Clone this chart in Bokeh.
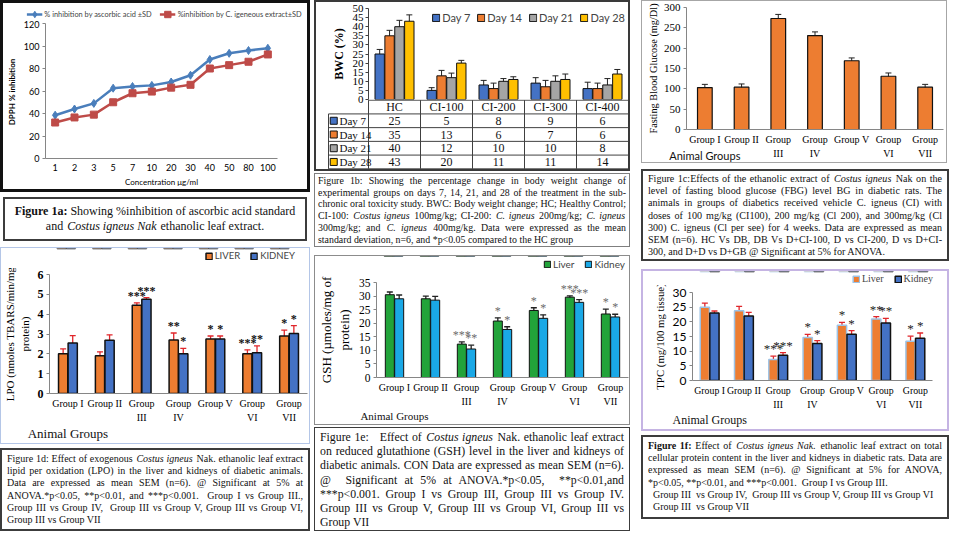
from bokeh.plotting import figure
from bokeh.models import (ColumnDataSource, FactorRange, Range1d, Whisker, TeeHead,
                          Legend, LegendItem, Div, Spacer, FixedTicker, LinearAxis)
from bokeh.layouts import row, column
from bokeh.transform import dodge
from bokeh.embed import file_html
from bokeh.resources import INLINE
from bokeh.core.properties import value

SERIF = "Liberation Serif"
SANS = "Lato"

# ---------------- data ----------------
# Figure 1a - DPPH % inhibition
conc_labels = ["1", "2", "3", "5", "7", "10", "20", "30", "40", "50", "80", "100"]
inhib_ascorbic = [38.5, 44, 49, 62.5, 64, 65, 68, 74, 88, 93.5, 96, 98]
inhib_cigneus = [32, 36.5, 39, 50, 58, 59.5, 63, 65.5, 80, 83, 86, 92.5]

# Figure 1b - body weight change (%)
bwc_groups = ["HC", "CI-100", "CI-200", "CI-300", "CI-400"]
bwc_days = ["Day 7", "Day 14", "Day 21", "Day 28"]
bwc_day7 = [25, 5, 8, 9, 6]
bwc_day14 = [35, 13, 6, 7, 6]
bwc_day21 = [40, 12, 10, 10, 8]
bwc_day28 = [43, 20, 11, 11, 14]
bwc_sd7 = [2.5, 1.5, 2.5, 3.0, 3.5]
bwc_sd14 = [3.0, 3.0, 3.0, 3.5, 3.0]
bwc_sd21 = [3.5, 2.5, 1.5, 3.0, 3.5]
bwc_sd28 = [3.5, 1.5, 1.5, 3.0, 2.5]
bwc_colors = ["#4472C4", "#ED7D31", "#A5A5A5", "#FFC000"]

# Animal groups (1c - 1f)
animal_groups = ["Group I", "Group II", "Group III", "Group IV", "Group V", "Group VI", "Group VII"]
group_tick_labels = ["Group I", "Group II", "Group\nIII", "Group\nIV", "Group V", "Group\nVI", "Group\nVII"]

fbg = [103, 104, 273, 231, 169, 131, 104]
fbg_sem = [8, 8, 10, 9, 7, 8, 7]

lpo_liver = [2.0, 1.9, 4.45, 2.7, 2.75, 2.0, 2.9]
lpo_liver_sem = [0.25, 0.2, 0.12, 0.35, 0.15, 0.2, 0.3]
lpo_liver_sig = ["", "", "***", "**", "*", "***", "*"]
lpo_kidney = [2.55, 2.68, 4.75, 2.0, 2.75, 2.05, 3.02]
lpo_kidney_sem = [0.37, 0.28, 0.08, 0.28, 0.15, 0.35, 0.4]
lpo_kidney_sig = ["", "", "***", "*", "*", "**", "*"]

gsh_liver = [30.5, 29.0, 12.3, 20.8, 24.7, 29.6, 23.4]
gsh_liver_sem = [1.0, 1.0, 0.8, 1.2, 1.0, 0.5, 1.8]
gsh_liver_sig = ["", "", "***", "*", "*", "***", "*"]
gsh_kidney = [29.0, 28.5, 10.5, 17.7, 21.8, 27.7, 22.3]
gsh_kidney_sem = [1.4, 1.4, 1.4, 1.0, 1.3, 1.0, 1.0]
gsh_kidney_sig = ["", "", "**", "*", "*", "***", "*"]

tpc_liver = [25.0, 23.8, 7.2, 14.7, 18.8, 21.0, 13.4]
tpc_liver_sem = [1.4, 1.5, 1.1, 1.0, 1.0, 0.8, 1.7]
tpc_liver_sig = ["", "", "***", "*", "*", "**", "*"]
tpc_kidney = [23.0, 22.0, 8.6, 12.6, 15.8, 19.6, 14.4]
tpc_kidney_sem = [0.7, 1.2, 0.9, 1.0, 1.2, 1.6, 1.8]
tpc_kidney_sig = ["", "", "***", "*", "*", "**", "*"]

gx = list(range(len(animal_groups)))


# ---------------- helpers ----------------
def make_fig(width, height, x_range, y_range, borders, border_css=None, **kw):
    left, right, top, bottom = borders
    p = figure(width=width, height=height, x_range=x_range, y_range=y_range,
               min_border_left=left, min_border_right=right,
               min_border_top=top, min_border_bottom=bottom,
               output_backend="svg", toolbar_location=None, frame_align=False, **kw)
    p.xgrid.visible = False
    p.ygrid.visible = False
    p.outline_line_color = None
    if border_css:
        p.styles = {"border": border_css}
    return p


def style_axes(p, font, size, style="normal", color="#868686",
               label_font=SERIF, label_size="11px", label_style="normal"):
    for ax in p.axis:
        ax.axis_line_color = color
        ax.major_tick_line_color = color
        ax.minor_tick_line_color = None
        ax.major_tick_in = 0
        ax.major_tick_out = 3
        ax.major_label_standoff = 3
        ax.major_label_text_font = font
        ax.major_label_text_font_size = size
        ax.major_label_text_font_style = style
        ax.major_label_text_color = "#000000"
        ax.axis_label_text_font = label_font
        ax.axis_label_text_font_size = label_size
        ax.axis_label_text_font_style = label_style
        ax.axis_label_text_color = "#000000"
        ax.axis_label_standoff = 4


def group_axes(p, size, font=SERIF, ag_font=SERIF, ag_size="12px", ag_standoff=0):
    first = [lbl.split("\n")[0] for lbl in group_tick_labels]
    second = [lbl.split("\n")[1] if "\n" in lbl else "" for lbl in group_tick_labels]
    xa = p.xaxis[0]
    xa.ticker = FixedTicker(ticks=gx)
    xa.major_label_overrides = dict(zip(gx, first))
    xa.major_tick_out = 0
    xa.major_label_standoff = 4
    xa.major_label_text_font = font
    xa.major_label_text_font_size = size
    xa.major_label_text_font_style = "normal"
    t2 = [i for i, s in zip(gx, second) if s]
    ax2 = LinearAxis(ticker=FixedTicker(ticks=t2),
                     major_label_overrides={i: s for i, s in zip(gx, second) if s},
                     axis_line_color=None, major_tick_line_color=None,
                     minor_tick_line_color=None, major_tick_out=0, major_tick_in=0,
                     major_label_standoff=0, major_label_text_font=font,
                     major_label_text_font_size=size, major_label_text_color="#000000")
    p.add_layout(ax2, "below")
    ax3 = LinearAxis(ticker=FixedTicker(ticks=[gx[0]]),
                     major_label_overrides={gx[0]: "Animal Groups"},
                     axis_line_color=None, major_tick_line_color=None,
                     minor_tick_line_color=None, major_tick_out=0, major_tick_in=0,
                     major_label_standoff=ag_standoff, major_label_text_font=ag_font,
                     major_label_text_font_size=ag_size, major_label_text_color="#111111")
    p.add_layout(ax3, "below")


def caption(html, width, height, font_size, line_height, border, align="justify",
            pad="2px 6px", inset=0):
    html = html.replace("<i>", '<i style="margin:0 1px">')
    inner = ('<div style="box-sizing:border-box;width:%dpx;height:%dpx;margin-left:%dpx;'
             'border:%s;padding:%s;overflow:hidden;font-family:\'%s\';font-size:%spx;'
             'line-height:%spx;text-align:%s;color:#111;">%s</div>'
             % (width - 2 * inset, height, inset, border, pad, SERIF, font_size,
                line_height, align, html))
    return Div(text=inner, width=width, height=height, margin=0)


def legend_strip(width, height, x_range, left, right, location, margin, font, size,
                 spacing=10, glyph=8):
    """A thin strip above a chart carrying its legend; its y window shows no data."""
    lf = figure(width=width, height=height, x_range=x_range, y_range=Range1d(-2, -1),
                min_border_left=left, min_border_right=right, min_border_top=0,
                min_border_bottom=0, x_axis_location=None, y_axis_location=None,
                output_backend="svg", toolbar_location=None, frame_align=False)
    lf.outline_line_color = None
    lf.grid.visible = False
    leg = Legend(items=[], orientation="horizontal", location=location,
                 label_text_font=font, label_text_font_size=size,
                 glyph_width=glyph, glyph_height=glyph, label_standoff=2, spacing=spacing,
                 padding=0, margin=margin, border_line_color=None, background_fill_alpha=0)
    lf.add_layout(leg)
    return lf, leg


def pair_panel(width, height, strip_h, borders, border_css, ymax, ystep, series, sems, sigs,
               names, fills, outlines, line_w, bar_w, offset, err_color, star_color,
               star_size, star_style, tick_font, tick_size, tick_style, xtick_size, ylabel,
               ylabel_size, legend_font, legend_size, legend_right, ag_font, ag_size):
    left, right, top, bottom = borders
    xr = Range1d(-0.5, len(gx) - 0.5)
    strip, leg = legend_strip(width, strip_h, xr, left, legend_right, "top_right", 2,
                              legend_font, legend_size)
    p = make_fig(width, height - strip_h, xr, Range1d(0, ymax),
                 (left, right, top - strip_h, bottom))
    data = dict(x=gx)
    for k in range(2):
        data["v%d" % k] = series[k]
        data["lo%d" % k] = [v - e for v, e in zip(series[k], sems[k])]
        data["hi%d" % k] = [v + e for v, e in zip(series[k], sems[k])]
        data["s%d" % k] = sigs[k]
    src = ColumnDataSource(data)
    for k, off in enumerate((-offset, offset)):
        xd = dodge("x", off)
        bar_style = dict(width=bar_w, source=src, fill_color=fills[k],
                         line_color=outlines[k], line_width=line_w)
        p.vbar(x=xd, top="v%d" % k, **bar_style)
        key = strip.vbar(x=xd, top="v%d" % k, **bar_style)
        leg.items.append(LegendItem(label=names[k], renderers=[key]))
        p.add_layout(Whisker(source=src, base=xd, lower="lo%d" % k, upper="hi%d" % k,
                             line_color=err_color, line_width=1.3,
                             upper_head=TeeHead(size=6, line_color=err_color, line_width=1.3),
                             lower_head=TeeHead(size=6, line_color=err_color, line_width=1.3)))
        p.text(x=xd, y="hi%d" % k, text="s%d" % k, source=src, text_align="center",
               text_baseline="bottom", text_font=value(SERIF), text_font_size=star_size,
               text_font_style=star_style, text_color=star_color)
    style_axes(p, tick_font, tick_size, tick_style, color="#868686",
               label_font=SERIF, label_size=ylabel_size)
    p.yaxis.ticker = FixedTicker(ticks=list(range(0, int(ymax) + 1, ystep)))
    p.yaxis.axis_label = ylabel
    group_axes(p, xtick_size, ag_font=ag_font, ag_size=ag_size)
    return column(strip, p, spacing=0, styles={"border": border_css})


# ---------------- Figure 1a ----------------
A_W, A_H, A_STRIP, A_TOP, A_BOT = 304, 186, 17, 20, 31
a_src = ColumnDataSource(dict(c=conc_labels, asc=inhib_ascorbic, ci=inhib_cigneus))
strip_a, leg_a = legend_strip(A_W, A_STRIP, FactorRange(*conc_labels), 18, 0, "top_center", 3,
                              SANS, "7.4px", spacing=8, glyph=16)
p1a = make_fig(A_W, A_H - A_STRIP, FactorRange(*conc_labels), Range1d(0, 120),
               (40, 30, A_TOP - A_STRIP, A_BOT))
a_items = []
for col, fcolor, marker, msize, lab in (("asc", "#4A7EBB", "diamond", 8,
                                         "% inhibition by ascorbic acid \u00b1SD"),
                                        ("ci", "#BE4B48", "square", 7,
                                         "%inhibition by C. igeneous extract\u00b1SD")):
    for fig in (p1a, strip_a):
        rl = fig.line(x="c", y=col, source=a_src, color=fcolor, line_width=2.5)
        rm = fig.scatter(x="c", y=col, source=a_src, marker=marker, size=msize, color=fcolor)
    a_items.append(LegendItem(label=lab, renderers=[rl, rm]))
leg_a.items = a_items
style_axes(p1a, SANS, "9px", label_font=SANS, label_size="8px")
p1a.yaxis.ticker = FixedTicker(ticks=list(range(0, 121, 20)))
p1a.yaxis.axis_label = "DPPH %  inhibition"
p1a.yaxis.axis_label_text_font_style = "bold"
p1a.xaxis.axis_label = "Concentration \u03bcg/ml"
p1a.xaxis.axis_label_standoff = 3
p1a.xaxis.major_label_standoff = 5
p1a.xaxis.major_tick_out = 0
panel_1a = column(strip_a, p1a, spacing=0, styles={"border": "3px solid #111"})

# ---------------- Figure 1b ----------------
B_W = 312
B_LEFT = 52
TAB_LEFT = 11
B_OVER = 6  # table slides up under the chart's bottom margin
p1b = make_fig(B_W, 97 + B_OVER, FactorRange(*bwc_groups), Range1d(0, 50),
               (B_LEFT, 0, 6, B_OVER), x_axis_location=None)
bwc_src = ColumnDataSource(dict(grp=bwc_groups,
                                d0=bwc_day7, d1=bwc_day14, d2=bwc_day21, d3=bwc_day28,
                                lo0=[v - e for v, e in zip(bwc_day7, bwc_sd7)],
                                hi0=[v + e for v, e in zip(bwc_day7, bwc_sd7)],
                                lo1=[v - e for v, e in zip(bwc_day14, bwc_sd14)],
                                hi1=[v + e for v, e in zip(bwc_day14, bwc_sd14)],
                                lo2=[v - e for v, e in zip(bwc_day21, bwc_sd21)],
                                hi2=[v + e for v, e in zip(bwc_day21, bwc_sd21)],
                                lo3=[v - e for v, e in zip(bwc_day28, bwc_sd28)],
                                hi3=[v + e for v, e in zip(bwc_day28, bwc_sd28)]))
b_items = []
for k, (day, col) in enumerate(zip(bwc_days, bwc_colors)):
    off = (k - 1.5) * 0.19
    xd = dodge("grp", off, range=p1b.x_range)
    r = p1b.vbar(x=xd, top="d%d" % k, width=0.18, source=bwc_src, fill_color=col,
                 line_color="#111", line_width=1)
    b_items.append(LegendItem(label=day, renderers=[r]))
    p1b.add_layout(Whisker(source=bwc_src, base=xd, lower="lo%d" % k, upper="hi%d" % k,
                           line_color="#222", line_width=1,
                           upper_head=TeeHead(size=6, line_color="#222", line_width=1),
                           lower_head=TeeHead(size=6, line_color="#222", line_width=1)))
style_axes(p1b, SERIF, "11px", color="#404040", label_font=SERIF, label_size="12px",
           label_style="bold")
p1b.yaxis.ticker = FixedTicker(ticks=list(range(0, 51, 5)))
p1b.yaxis.axis_label = "BWC (%)"
p1b.yaxis.major_label_standoff = 2
p1b.add_layout(Legend(items=b_items, orientation="horizontal", location="top_right",
                      label_text_font=SANS, label_text_font_size="11px", glyph_width=9,
                      glyph_height=9, label_standoff=2, spacing=6, padding=0, margin=3,
                      border_line_color=None, background_fill_alpha=0))

# data table under the chart
n_g = len(bwc_groups)
n_rows = len(bwc_days) + 1
col_px = (B_W - B_LEFT) / n_g
hdr = (B_W - TAB_LEFT) / col_px - n_g
tab = make_fig(B_W, 70, Range1d(-hdr, n_g), Range1d(n_rows + 0.05, -0.05),
               (TAB_LEFT, 0, 0, 0), x_axis_location=None, y_axis_location=None)
tab.background_fill_alpha = 0
tab.border_fill_alpha = 0
tab.margin = (-B_OVER, 0, 0, 0)
xl = -hdr + 1.0 / col_px
seg_x0 = [float(k) for k in range(n_g + 1)] + [xl] + [xl] * n_rows + [0.0]
seg_x1 = [float(k) for k in range(n_g + 1)] + [xl] + [float(n_g)] * n_rows + [float(n_g)]
seg_y0 = [0.0] * (n_g + 1) + [1.0] + [float(k) for k in range(1, n_rows + 1)] + [0.0]
seg_y1 = [float(n_rows)] * (n_g + 1) + [float(n_rows)] + [float(k) for k in range(1, n_rows + 1)] + [0.0]
tab.segment(x0=seg_x0, y0=seg_y0, x1=seg_x1, y1=seg_y1, line_color="#404040", line_width=1)
tab.text(x=[g + 0.5 for g in range(n_g)], y=[0.5] * n_g, text=bwc_groups,
         text_align="center", text_baseline="middle", text_font=value(SERIF),
         text_font_size="12px", text_color="#111")
tx, ty, tt = [], [], []
for r_i, vals in enumerate([bwc_day7, bwc_day14, bwc_day21, bwc_day28]):
    for g, v in enumerate(vals):
        tx.append(g + 0.5)
        ty.append(r_i + 1.5)
        tt.append(str(v))
tab.text(x=tx, y=ty, text=tt, text_align="center", text_baseline="middle",
         text_font=value(SERIF), text_font_size="12px", text_color="#111")
row_y = [r_i + 1.5 for r_i in range(len(bwc_days))]
tab.scatter(x=[-hdr + 0.12] * len(bwc_days), y=row_y, marker="square", size=7,
            fill_color=bwc_colors, line_color="#111", line_width=1)
tab.text(x=[-hdr + 0.23] * len(bwc_days), y=row_y, text=bwc_days, text_align="left",
         text_baseline="middle", text_font=value(SERIF), text_font_size="11px",
         text_color="#111")
block_1b = column(p1b, tab, spacing=0, styles={"border": "2px solid #3a3a3a"})

# ---------------- Figure 1c ----------------
p1c = make_fig(306, 163, Range1d(-0.5, len(gx) - 0.5), Range1d(0, 300), (44, 5, 6, 30),
               "1px solid #a6a6a6")
fbg_src = ColumnDataSource(dict(x=gx, v=fbg,
                                lo=[v - e for v, e in zip(fbg, fbg_sem)],
                                hi=[v + e for v, e in zip(fbg, fbg_sem)]))
p1c.vbar(x="x", top="v", width=0.4, source=fbg_src, fill_color="#ED7D31",
         line_color="#111", line_width=1.2)
p1c.add_layout(Whisker(source=fbg_src, base="x", lower="lo", upper="hi",
                       line_color="#222", line_width=1,
                       upper_head=TeeHead(size=6, line_color="#222", line_width=1),
                       lower_head=TeeHead(size=6, line_color="#222", line_width=1)))
style_axes(p1c, SERIF, "11px", label_font=SERIF, label_size="10.3px")
p1c.yaxis.ticker = FixedTicker(ticks=list(range(0, 301, 50)))
p1c.yaxis.axis_label = "Fasting Blood Glucose (mg/Dl)"
p1c.yaxis.axis_label_standoff = 2
group_axes(p1c, "10px", ag_font=SANS, ag_size="11px", ag_standoff=-13)

# ---------------- Figure 1d / 1e / 1f ----------------
panel_1d = pair_panel(308, 195, 20, (47, 2, 26, 37), "1px solid #b4c6e7", 6, 1,
                      (lpo_liver, lpo_kidney), (lpo_liver_sem, lpo_kidney_sem),
                      (lpo_liver_sig, lpo_kidney_sig), ("LIVER", "KIDNEY"),
                      ("#ED7D31", "#4472C4"), ("#111", "#111"), 1.5, 0.25, 0.13,
                      "#E0262B", "#111", "12px", "bold", SERIF, "12px", "bold", "10px",
                      "LPO (nmoles TBARS/min/mg\nprotein)", "11px", SANS, "9.5px", 12,
                      SERIF, "13px")
panel_1e = pair_panel(314, 168, 20, (60, 1, 26, 40), "1px solid #8c8c8c", 35, 5,
                      (gsh_liver, gsh_kidney), (gsh_liver_sem, gsh_kidney_sem),
                      (gsh_liver_sig, gsh_kidney_sig), ("Liver", "Kidney"),
                      ("#22A33A", "#1AA8E6"), ("#111", "#111"), 1, 0.25, 0.13,
                      "#222", "#6b6b6b", "12px", "normal", SERIF, "11.5px", "normal", "10px",
                      "GSH (\u00b5moles/mg of\nprotein)", "13px", SANS, "10px", 2,
                      SERIF, "11px")
panel_1f = pair_panel(304, 158, 14, (49, 15, 21, 38), "2px solid #c5b4e3", 30, 5,
                      (tpc_liver, tpc_kidney), (tpc_liver_sem, tpc_kidney_sem),
                      (tpc_liver_sig, tpc_kidney_sig), ("Liver", "Kidney"),
                      ("#ED7D31", "#4472C4"), ("#9DC3E6", "#111"), 1.5, 0.27, 0.14,
                      "#E0262B", "#222", "13px", "normal", SANS, "12px", "normal", "9.8px",
                      "TPC (mg/100 mg tissue)", "10.8px", SERIF, "10px", 12,
                      SERIF, "12px")

# ---------------- captions ----------------
cap1a = caption('<b>Figure 1a:</b> Showing %inhibition of ascorbic acid standard and '
                '<i>Costus igneus Nak</i> ethanolic leaf extract.',
                310, 44, 12, 15, "2px solid #3c3c3c", align="center", pad="5px 6px", inset=3)
cap1b = caption('Figure 1b: Showing the percentage change in body weight change of '
                'experimental groups on days 7, 14, 21, and 28 of the treatment in the '
                'sub-chronic oral toxicity study. BWC: Body weight change; HC; Healthy Control; '
                'CI-100: <i>Costus igneus</i> 100mg/kg; CI-200: <i>C. igneus</i> 200mg/kg; '
                '<i>C. igneus</i> 300mg/kg; and <i>C. igneus</i> 400mg/kg. Data were expressed '
                'as the mean standard deviation, n=6, and *p&lt;0.05 compared to the HC group',
                316, 74, 9.9, 11.7, "1px solid #7f7f7f", pad="1px 3px")
cap1c = caption('Figure 1c:Effects of the ethanolic extract of <i>Costus igneus</i> Nak on the '
                'level of fasting blood glucose (FBG) level BG in diabetic rats. The animals in '
                'groups of diabetics received vehicle C. igneus (CI) with doses of 100 mg/kg '
                '(CI100), 200 mg/kg (Cl 200), and 300mg/kg (Cl 300) C. igneus (Cl per see) for '
                '4 weeks. Data are expressed as mean SEM (n=6). HC Vs DB, DB Vs D+CI-100, D vs '
                'CI-200, D vs D+CI-300, and D+D vs D+GB @ Significant at 5% for ANOVA.',
                308, 92, 10.1, 12.2, "2px solid #3c3c3c", pad="2px 5px")
cap1d = caption('Figure 1d: Effect of exogenous <i>Costus igneus</i> Nak. ethanolic leaf extract '
                'lipid per oxidation (LPO) in the liver and kidneys of diabetic animals. Data are '
                'expressed as mean SEM (n=6). @ Significant at 5% at ANOVA.*p&lt;0.05, '
                '**p&lt;0.01, and ***p&lt;0.001.&nbsp; Group I vs Group III., Group III vs Group IV,'
                '&nbsp; Group III vs Group V, Group III vs Group VI, Group III vs Group VII',
                310, 83, 10, 12.2, "2px solid #3c3c3c", pad="3px 5px")
cap1e = caption('Figure 1e:&nbsp;&nbsp; Effect of <i>Costus igneus</i> Nak. ethanolic leaf extract '
                'on reduced glutathione (GSH) level in the liver and kidneys of diabetic animals. '
                'CON Data are expressed as mean SEM (n=6). @&nbsp; Significant at 5% at '
                'ANOVA.*p&lt;0.05,&nbsp; **p&lt;0.01,and ***p&lt;0.001. Group I vs Group III, '
                'Group III vs Group IV. Group III vs Group V, Group III vs Group VI, Group III vs '
                'Group VII',
                316, 104, 11.8, 14.2, "1px solid #3c3c3c", pad="2px 5px")
cap1f = caption('<b>Figure 1f:</b> Effect of <i>Costus igneus Nak.</i> ethanolic leaf extract on '
                'total cellular protein content in the liver and kidneys in diabetic rats. Data '
                'are expressed as mean SEM (n=6). @ Significant at 5% for ANOVA, *p&lt;0.05, '
                '**p&lt;0.01, and ***p&lt;0.001.&nbsp; Group I vs Group III.<br>'
                '&nbsp;&nbsp;Group III&nbsp; vs Group IV,&nbsp; Group III vs Group V, Group III '
                'vs Group VI<br>&nbsp;&nbsp;Group III&nbsp; vs Group VII',
                308, 84, 10, 12.2, "2px solid #3c3c3c", pad="3px 5px")

# ---------------- layout ----------------
col1 = column(panel_1a, Spacer(height=5), cap1a, Spacer(height=6), panel_1d, Spacer(height=4),
              cap1d, spacing=0)
col2 = column(block_1b, Spacer(height=2), cap1b, Spacer(height=8), panel_1e, Spacer(height=2),
              cap1e, spacing=0)
col3 = column(p1c, Spacer(height=6), cap1c, Spacer(height=8), panel_1f, Spacer(height=4), cap1f,
              spacing=0)
page = row(col1, Spacer(width=4), col2, Spacer(width=11), col3, spacing=0)

open("out.html", "w").write(file_html(page, INLINE))
